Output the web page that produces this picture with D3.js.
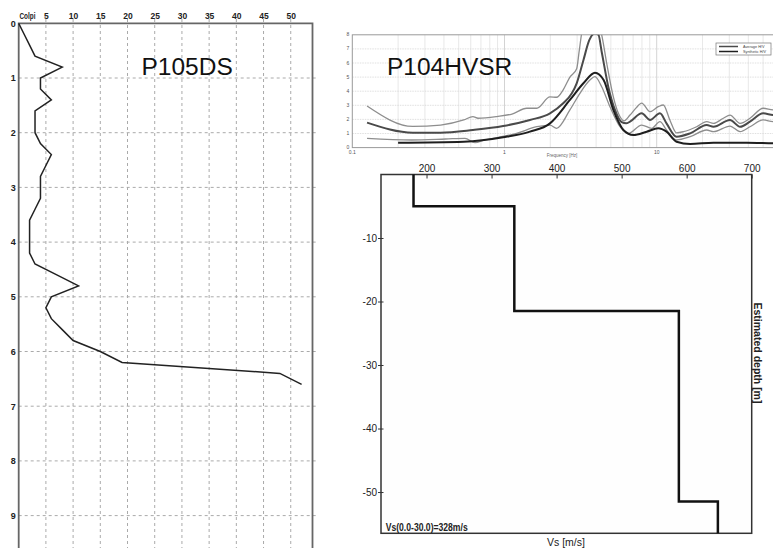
<!DOCTYPE html>
<html><head><meta charset="utf-8">
<script src="https://cdn.jsdelivr.net/npm/d3@7"></script>
<style>
html,body{margin:0;padding:0;background:#fff;}
svg{display:block;font-family:"Liberation Sans",Arial,sans-serif;}
</style></head>
<body><svg id="c" width="773" height="548"></svg>
<script>
// ---- Penetrometer (P105DS) ----
const penDepth = [0, 0.2, 0.4, 0.6, 0.8, 1.0, 1.2, 1.4, 1.6, 1.8, 2.0, 2.2, 2.4, 2.6, 2.8, 3.0, 3.2, 3.4, 3.6, 3.8, 4.0, 4.2, 4.4, 4.6, 4.8, 5.0, 5.2, 5.4, 5.6, 5.8, 6.0, 6.2, 6.4, 6.6];
const penBlows = [0, 1, 2, 3, 8, 4, 4, 6, 3, 3, 3, 4, 6, 5, 4, 4, 4, 3, 2, 2, 2, 2, 3, 7, 11, 6, 5, 6, 8, 10, 15, 19, 48, 52];
const penXTicks = [5, 10, 15, 20, 25, 30, 35, 40, 45, 50];
const penYTicks = [0, 1, 2, 3, 4, 5, 6, 7, 8, 9];

// ---- HVSR (P104HVSR) ----
const hvUpperF = [0.125, 0.25, 0.38, 0.54, 0.62, 0.67, 0.89, 1.12, 1.4, 1.63, 1.99, 2.2, 2.43, 2.69, 2.98, 3.1, 3.3, 4.2, 4.35, 4.69, 5.19, 5.6, 6.1, 6.68, 7.3, 7.97, 9.04, 10.24, 11.05, 12.2, 13.5, 15.0, 18.3, 21.3, 23.6, 27.4, 30.3, 35.3, 41.0, 50.1, 58.4, 70];
const hvUpperV = [2.95, 1.5, 1.6, 1.96, 2.2, 2.08, 2.2, 2.38, 2.79, 2.79, 3.6, 3.57, 4.1, 5.0, 5.6, 6.9, 8.6, 8.6, 8.0, 6.0, 3.6, 2.43, 1.9, 2.31, 2.8, 3.15, 2.55, 2.9, 3.02, 1.96, 1.05, 1.13, 1.48, 1.84, 1.72, 2.08, 2.31, 1.72, 2.08, 2.79, 2.67, 2.7];
const hvAvgF = [0.125, 0.25, 0.38, 0.62, 0.98, 1.47, 1.99, 2.43, 2.77, 2.98, 3.3, 3.6, 3.9, 4.14, 4.35, 4.81, 5.32, 5.89, 6.3, 6.68, 7.97, 9.04, 10.5, 11.6, 13.5, 16.6, 21.3, 23.6, 30.3, 35.3, 41.0, 50.1, 58.4, 70];
const hvAvgV = [1.77, 1.06, 1.06, 1.25, 1.53, 1.96, 2.43, 3.14, 3.85, 4.56, 6.2, 7.6, 8.1, 8.0, 6.8, 4.3, 2.67, 1.8, 1.72, 1.84, 2.43, 1.96, 2.43, 1.72, 0.77, 1.01, 1.6, 1.48, 1.96, 1.48, 1.84, 2.43, 2.31, 2.3];
const hvLowerF = [0.125, 0.245, 0.41, 0.55, 0.64, 0.74, 0.91, 1.2, 1.63, 1.99, 2.2, 2.69, 3.13, 3.64, 3.93, 4.35, 4.93, 5.74, 6.51, 7.97, 9.27, 10.5, 11.6, 13.5, 16.6, 21.3, 23.6, 30.3, 35.3, 41.0, 50.1, 58.4, 70];
const hvLowerV = [0.66, 0.54, 0.61, 0.66, 0.35, 0.54, 0.73, 1.01, 1.48, 1.6, 1.37, 2.67, 3.85, 4.79, 5.03, 4.32, 2.9, 1.48, 1.01, 1.6, 1.37, 1.84, 1.25, 0.54, 0.77, 1.25, 1.13, 1.53, 1.13, 1.48, 1.96, 1.84, 1.85];
const hvSynF = [0.2, 0.54, 0.98, 1.47, 1.99, 2.69, 3.3, 3.93, 4.48, 5.19, 6.04, 7.02, 8.6, 10.24, 11.6, 13.5, 16.6, 23.6, 39, 58.4, 70];
const hvSynV = [0.35, 0.42, 0.73, 1.13, 1.72, 3.38, 4.56, 5.31, 4.79, 2.67, 1.25, 0.89, 1.13, 1.37, 1.13, 0.42, 0.26, 0.35, 0.35, 0.31, 0.3];
const hvYTicks = [0, 1, 2, 3, 4, 5, 6, 7, 8];
const hvXLabels = [0.1, 1, 10];
const hvLegend = ["Average H/V", "Synthetic H/V"];

// ---- Vs profile ----
const vsValues = [180, 335, 588, 648];
const vsLayerTop = [0, -5, -21.5, -51.5];
const vsBottom = -56.5;
const vsXTicks = [200, 300, 400, 500, 600, 700];
const vsYTicks = [-10, -20, -30, -40, -50];

const svg = d3.select("#c");
svg.append("rect").attr("width", 773).attr("height", 548).attr("fill", "#fff");

// ================= Left panel =================
const xP = d3.scaleLinear().domain([0, 54]).range([18.7, 312.5]);
const yP = d3.scaleLinear().domain([0, 10]).range([23.3, 570.3]);
const gP = svg.append("g");
gP.selectAll(".vg").data(penXTicks).join("line")
  .attr("x1", d => xP(d)).attr("x2", d => xP(d)).attr("y1", 19).attr("y2", 560)
  .attr("stroke", "#aaa").attr("stroke-width", 1).attr("stroke-dasharray", "3,3");
gP.selectAll(".hg").data(penYTicks.filter(d => d > 0)).join("line")
  .attr("x1", xP(0)).attr("x2", 316).attr("y1", d => yP(d)).attr("y2", d => yP(d))
  .attr("stroke", "#aaa").attr("stroke-width", 1).attr("stroke-dasharray", "3,3");
gP.append("path").attr("d", `M${xP(0)},560V${yP(0)}H${xP(54)}V560`)
  .attr("fill", "none").attr("stroke", "#666").attr("stroke-width", 1.8);
const axTop = gP.append("g").attr("transform", `translate(0,${yP(0) - 4})`)
  .call(d3.axisTop(xP).tickValues(penXTicks).tickSize(0).tickPadding(0));
axTop.select(".domain").remove();
axTop.selectAll("text").attr("font-size", 8.5).attr("font-weight", "bold").attr("fill", "#222")
  .attr("font-family", "Liberation Sans, Arial, sans-serif");
gP.append("text").attr("x", 19.5).attr("y", 19).text("Colpi")
  .attr("font-size", 8.5).attr("font-weight", "bold").attr("fill", "#222")
  .attr("textLength", 16).attr("lengthAdjust", "spacingAndGlyphs");
const axLeft = gP.append("g").attr("transform", `translate(${xP(0) - 2},0)`)
  .call(d3.axisLeft(yP).tickValues(penYTicks).tickSize(0).tickPadding(1).tickFormat(d3.format("d")));
axLeft.select(".domain").remove();
axLeft.selectAll("text").attr("font-size", 9).attr("font-weight", "bold").attr("fill", "#222")
  .attr("font-family", "Liberation Sans, Arial, sans-serif");
const penPts = penDepth.map((d, i) => [penBlows[i], d]);
gP.append("path").datum(penPts)
  .attr("d", d3.line().x(d => xP(d[0])).y(d => yP(d[1])))
  .attr("fill", "none").attr("stroke", "#222").attr("stroke-width", 1.5);
gP.append("text").attr("x", 141.5).attr("y", 75).text("P105DS")
  .attr("font-size", 24.5).attr("fill", "#111");

// ================= HVSR panel =================
const xH = d3.scaleLog().domain([0.1, 100]).range([352.3, 352.3 + 3 * 152.2]);
const yH = d3.scaleLinear().domain([0, 8]).range([147.6, 34.8]);
const gH = svg.append("g");
svg.append("clipPath").attr("id", "hclip").append("rect")
  .attr("x", xH(0.1)).attr("y", yH(8)).attr("width", xH(100) - xH(0.1)).attr("height", yH(0) - yH(8));
const logTicks = xH.ticks().filter(d => d > 0.1);
gH.selectAll(".hvg").data(logTicks).join("line")
  .attr("x1", d => xH(d)).attr("x2", d => xH(d)).attr("y1", yH(8)).attr("y2", yH(0))
  .attr("stroke", d => ([1, 10].includes(d) ? "#c8c8c8" : "#e2e2e2")).attr("stroke-width", 0.8);
gH.selectAll(".hhg").data(hvYTicks.filter(d => d > 0 && d < 8)).join("line")
  .attr("x1", xH(0.1)).attr("x2", 773).attr("y1", d => yH(d)).attr("y2", d => yH(d))
  .attr("stroke", "#d8d8d8").attr("stroke-width", 0.8).attr("stroke-dasharray", "1.5,1");
gH.append("rect").attr("x", xH(0.1)).attr("y", yH(8)).attr("width", xH(100) - xH(0.1)).attr("height", yH(0) - yH(8))
  .attr("fill", "none").attr("stroke", "#999").attr("stroke-width", 1);
gH.selectAll(".hyl").data(hvYTicks).join("text")
  .attr("x", xH(0.1) - 3).attr("y", d => yH(d) + 1.5).attr("text-anchor", "end")
  .attr("font-size", 5).attr("fill", "#555").text(d => d);
gH.selectAll(".hxl").data(hvXLabels).join("text")
  .attr("x", d => xH(d)).attr("y", yH(0) + 6).attr("text-anchor", "middle")
  .attr("font-size", 5).attr("fill", "#555").text(d => d);
gH.append("text").attr("x", 562).attr("y", 157).attr("text-anchor", "middle")
  .attr("font-size", 4.5).attr("fill", "#666").text("Frequency [Hz]");

const hvLine = d3.line().x(d => xH(d[0])).y(d => yH(d[1])).curve(d3.curveMonotoneX);
const curves = [
  {f: hvUpperF, v: hvUpperV, c: "#8e8e8e", w: 1.3},
  {f: hvLowerF, v: hvLowerV, c: "#8e8e8e", w: 1.3},
  {f: hvAvgF, v: hvAvgV, c: "#4a4a4a", w: 2},
  {f: hvSynF, v: hvSynV, c: "#1e1e1e", w: 2}
];
const gC = gH.append("g").attr("clip-path", "url(#hclip)");
curves.forEach(cv => {
  gC.append("path").datum(cv.f.map((f, i) => [f, cv.v[i]]))
    .attr("d", hvLine).attr("fill", "none").attr("stroke", cv.c).attr("stroke-width", cv.w);
});
const lg = gH.append("g");
lg.append("rect").attr("x", 716).attr("y", 43).attr("width", 55).attr("height", 12)
  .attr("fill", "#fff").attr("stroke", "#777").attr("stroke-width", 0.7);
hvLegend.forEach((t, i) => {
  const yy = 46.5 + i * 5;
  lg.append("line").attr("x1", 719).attr("x2", 738).attr("y1", yy).attr("y2", yy)
    .attr("stroke", i === 0 ? "#4a4a4a" : "#1e1e1e").attr("stroke-width", 1.5);
  lg.append("text").attr("x", 743).attr("y", yy + 1.4).attr("font-size", 3.8).attr("fill", "#444").text(t);
});
gH.append("text").attr("x", 387).attr("y", 75).text("P104HVSR")
  .attr("font-size", 24.5).attr("fill", "#111");

// ================= Vs panel =================
const xV = d3.scaleLinear().domain([130, 700]).range([381, 751.7]);
const yV = d3.scaleLinear().domain([0, vsBottom]).range([174.5, 533.3]);
const gV = svg.append("g");
gV.append("rect").attr("x", xV(130)).attr("y", yV(0)).attr("width", xV(700) - xV(130)).attr("height", yV(vsBottom) - yV(0))
  .attr("fill", "#fefefe").attr("stroke", "#333").attr("stroke-width", 1.5);
const axV = gV.append("g").attr("transform", `translate(0,${yV(0)})`)
  .call(d3.axisTop(xV).tickValues(vsXTicks).tickSizeInner(-4).tickSizeOuter(0).tickPadding(3));
axV.select(".domain").remove();
axV.selectAll("line").attr("stroke", "#333");
axV.selectAll("text").attr("font-size", 10).attr("fill", "#222").attr("font-family", "Liberation Sans, Arial, sans-serif");
const ayV = gV.append("g").attr("transform", `translate(${xV(130)},0)`)
  .call(d3.axisLeft(yV).tickValues(vsYTicks).tickSize(3).tickPadding(1).tickFormat(d => String(d)));
ayV.select(".domain").remove();
ayV.selectAll(".tick line").attr("x1", 2.5).attr("stroke", "#333");
ayV.selectAll("text").attr("font-size", 10).attr("fill", "#222").attr("font-family", "Liberation Sans, Arial, sans-serif");

const stepPts = [];
vsValues.forEach((v, i) => {
  const top = vsLayerTop[i];
  const bot = i < vsValues.length - 1 ? vsLayerTop[i + 1] : vsBottom;
  stepPts.push([v, top], [v, bot]);
});
gV.append("path").datum(stepPts)
  .attr("d", d3.line().x(d => xV(d[0])).y(d => yV(d[1])))
  .attr("fill", "none").attr("stroke", "#111").attr("stroke-width", 2.5);

gV.append("text").attr("x", 385.7).attr("y", 531).text("Vs(0.0-30.0)=328m/s")
  .attr("font-size", 10).attr("font-weight", "bold").attr("fill", "#222")
  .attr("textLength", 82).attr("lengthAdjust", "spacingAndGlyphs");
gV.append("text").attr("x", 566).attr("y", 546).attr("text-anchor", "middle").text("Vs [m/s]")
  .attr("font-size", 10.5).attr("fill", "#222");
gV.append("text").attr("transform", "translate(754,353) rotate(90)").attr("text-anchor", "middle")
  .text("Estimated depth [m]").attr("font-size", 10.5).attr("font-weight", "bold").attr("fill", "#222");
</script></body></html>
